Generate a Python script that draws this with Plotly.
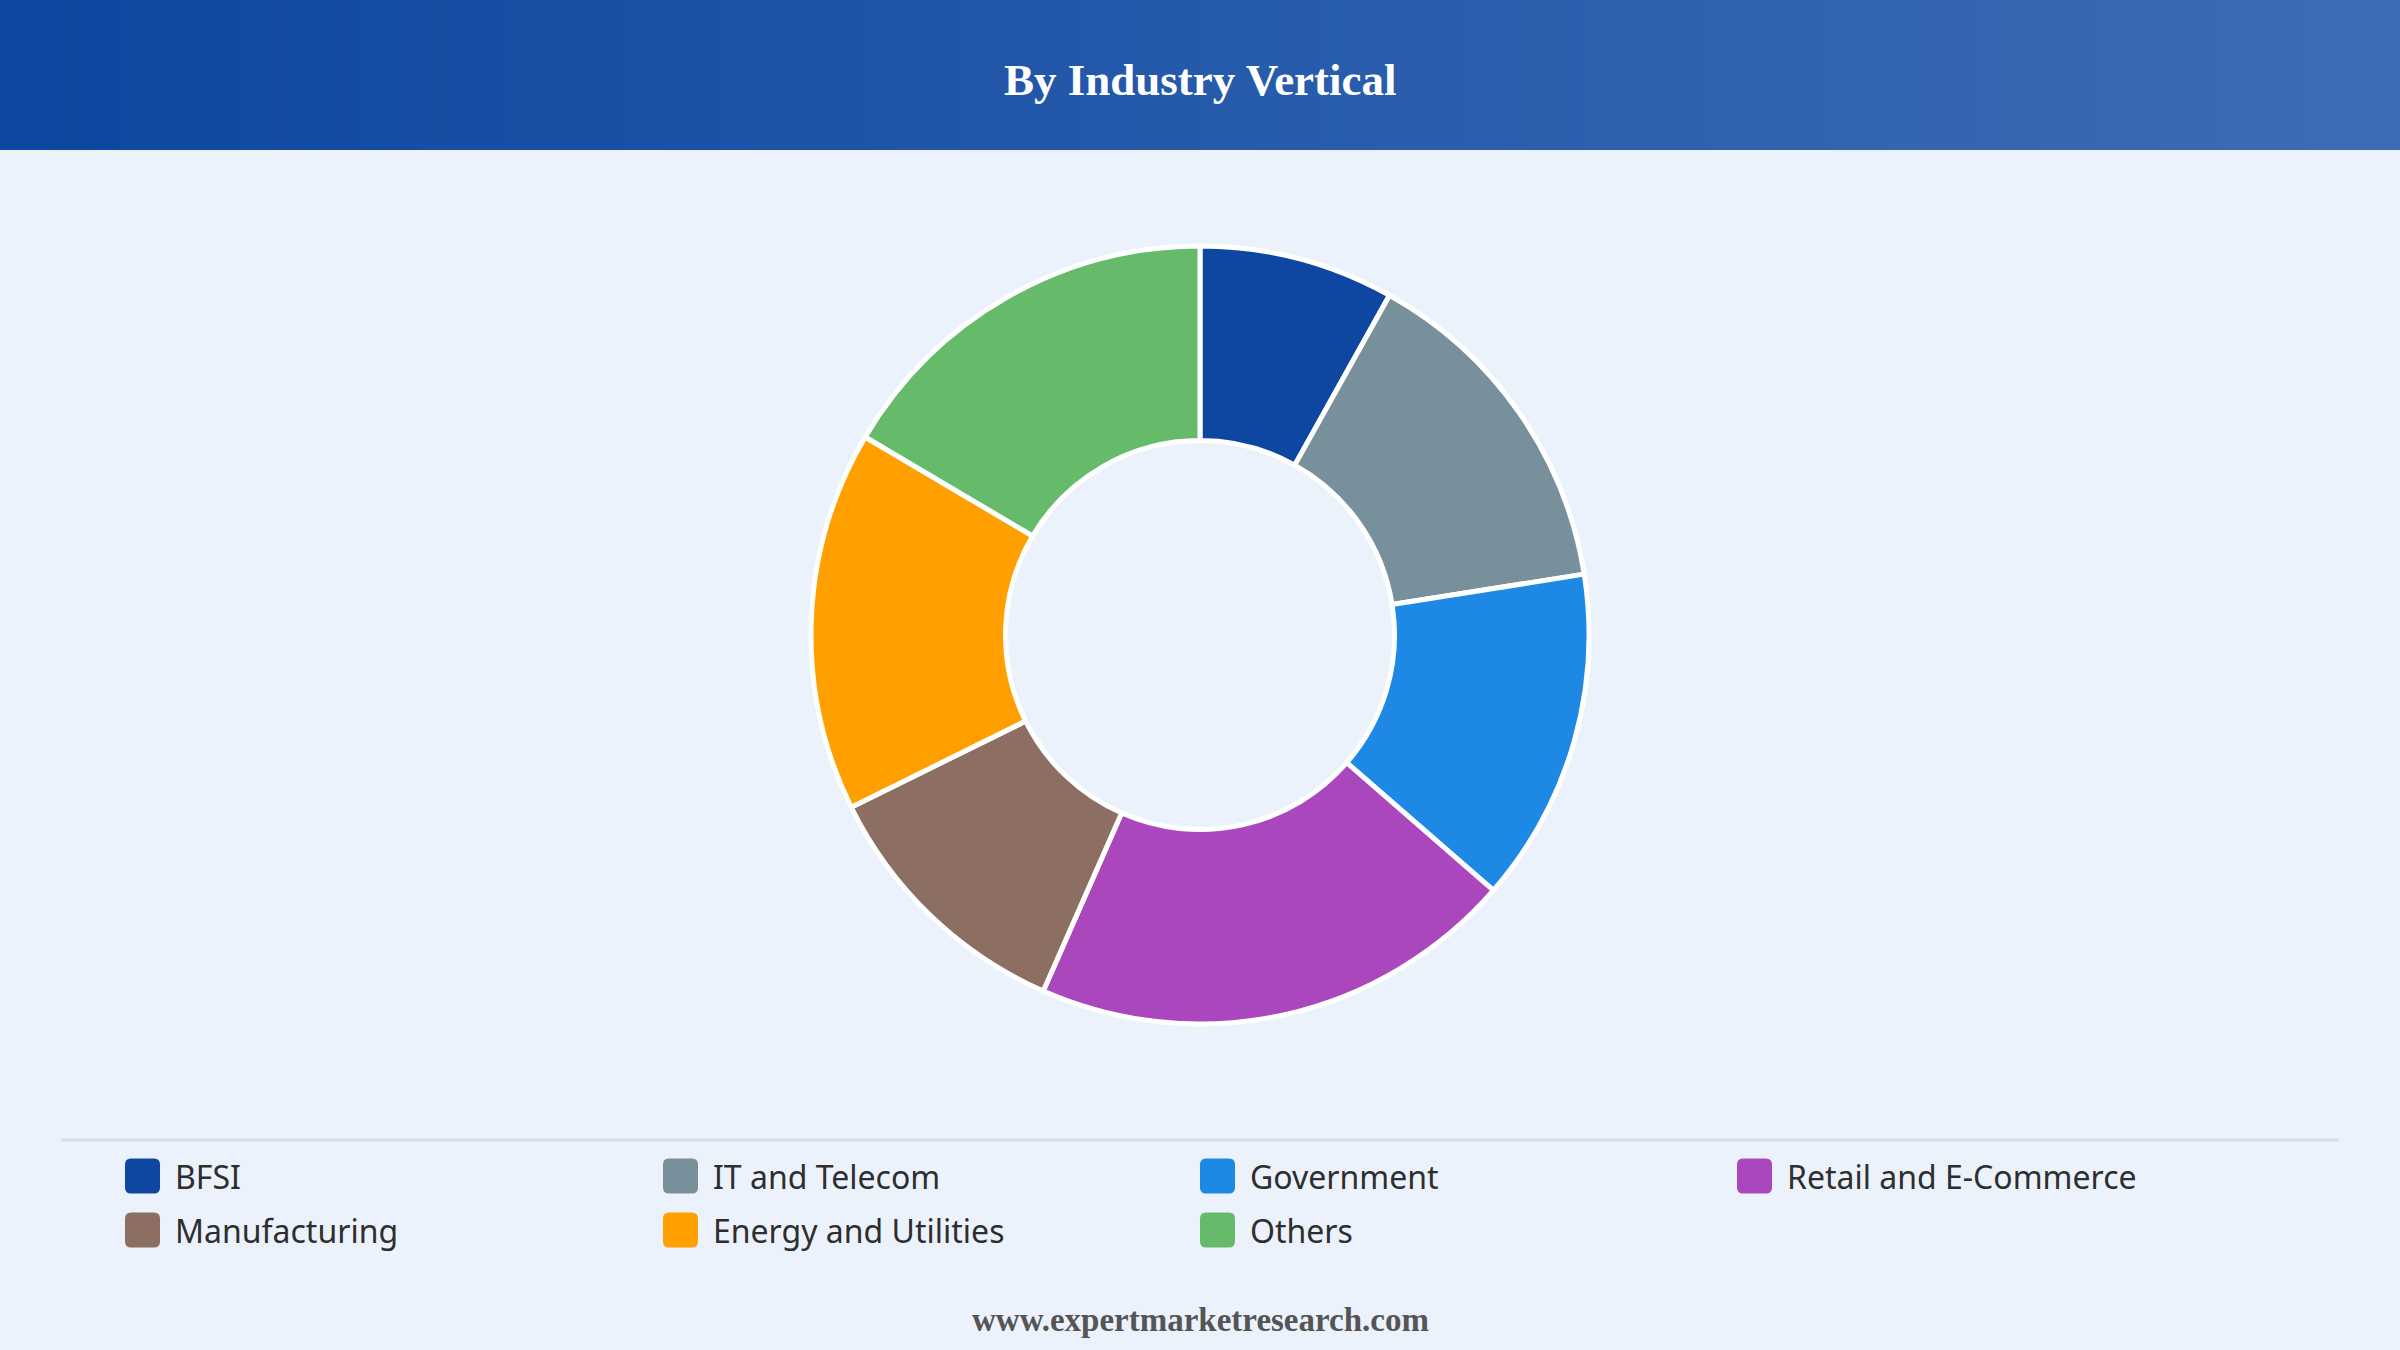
import plotly.graph_objects as go

# ---- data ----
labels = ["BFSI", "IT and Telecom", "Government", "Retail and E-Commerce",
          "Manufacturing", "Energy and Utilities", "Others"]
values = [8.1, 14.4, 13.9, 20.2, 11.1, 15.8, 16.5]
colors = ["#0D47A1", "#78909C", "#1E88E5", "#AB47BC",
          "#8D6E63", "#FFA000", "#66BB6A"]
title_text = "By Industry Vertical"
footer_text = "www.expertmarketresearch.com"

W, H = 2400, 1350
BG = "#EBF2FC"

def px_x(x):
    return x / W

def px_y(y):
    return 1 - y / H

fig = go.Figure()

# donut centered at (1200, 635) with radius 389 px
cx, cy, R = 1200, 635, 389
fig.add_trace(go.Pie(
    labels=labels, values=values, hole=0.5, sort=False,
    direction="clockwise", rotation=0,
    marker=dict(colors=colors, line=dict(color="white", width=5)),
    textinfo="none", hoverinfo="label+percent",
    domain=dict(x=[px_x(cx - R), px_x(cx + R)], y=[px_y(cy + R), px_y(cy - R)]),
    showlegend=False,
))

shapes = []
# header gradient band
c0 = (13, 71, 161)
c1 = (62, 108, 180)
n = 80
hdr_h = 150
for i in range(n):
    t = i / (n - 1)
    col = tuple(round(c0[k] + (c1[k] - c0[k]) * t) for k in range(3))
    shapes.append(dict(type="rect", xref="paper", yref="paper",
                       x0=px_x(W * i / n), x1=px_x(W * (i + 1) / n + 1),
                       y0=px_y(hdr_h), y1=1,
                       fillcolor="rgb(%d,%d,%d)" % col, line=dict(width=0), layer="below"))

# separator line
shapes.append(dict(type="line", xref="paper", yref="paper",
                   x0=px_x(61), x1=px_x(2339), y0=px_y(1140), y1=px_y(1140),
                   line=dict(color="#D9DEE4", width=3)))

def rounded_rect(x0, y0, x1, y1, r):
    X = px_x
    Y = px_y
    p = (f"M {X(x0 + r)} {Y(y0)} L {X(x1 - r)} {Y(y0)} "
         f"Q {X(x1)} {Y(y0)} {X(x1)} {Y(y0 + r)} "
         f"L {X(x1)} {Y(y1 - r)} Q {X(x1)} {Y(y1)} {X(x1 - r)} {Y(y1)} "
         f"L {X(x0 + r)} {Y(y1)} Q {X(x0)} {Y(y1)} {X(x0)} {Y(y1 - r)} "
         f"L {X(x0)} {Y(y0 + r)} Q {X(x0)} {Y(y0)} {X(x0 + r)} {Y(y0)} Z")
    return p

annotations = []
col_x = [125, 663, 1200, 1737]
row_y = [1176, 1230]
sw = 35
for i, (lab, colr) in enumerate(zip(labels, colors)):
    r_i, c_i = divmod(i, 4)
    x0 = col_x[c_i]
    yc = row_y[r_i]
    shapes.append(dict(type="path", xref="paper", yref="paper",
                       path=rounded_rect(x0, yc - sw / 2, x0 + sw, yc + sw / 2, 6),
                       fillcolor=colr, line=dict(width=0)))
    annotations.append(dict(x=px_x(x0 + 48), y=px_y(yc), xref="paper", yref="paper",
                            text=lab, showarrow=False, xanchor="left", yanchor="middle",
                            font=dict(family="Noto Sans, Open Sans, sans-serif", size=32,
                                      color="#2E2E2E")))

annotations.append(dict(x=0.5, y=px_y(80), xref="paper", yref="paper", text="<b>%s</b>" % title_text,
                        showarrow=False, xanchor="center", yanchor="middle",
                        font=dict(family="Liberation Serif, Times New Roman, serif", size=45, color="white")))
annotations.append(dict(x=0.5, y=px_y(1320), xref="paper", yref="paper", text="<b>%s</b>" % footer_text,
                        showarrow=False, xanchor="center", yanchor="middle",
                        font=dict(family="Liberation Serif, Times New Roman, serif", size=33, color="#555555")))

fig.update_layout(
    width=W, height=H, autosize=False,
    margin=dict(l=0, r=0, t=0, b=0),
    paper_bgcolor=BG, plot_bgcolor=BG,
    shapes=shapes, annotations=annotations,
    showlegend=False,
)

fig.write_html("out.html")
